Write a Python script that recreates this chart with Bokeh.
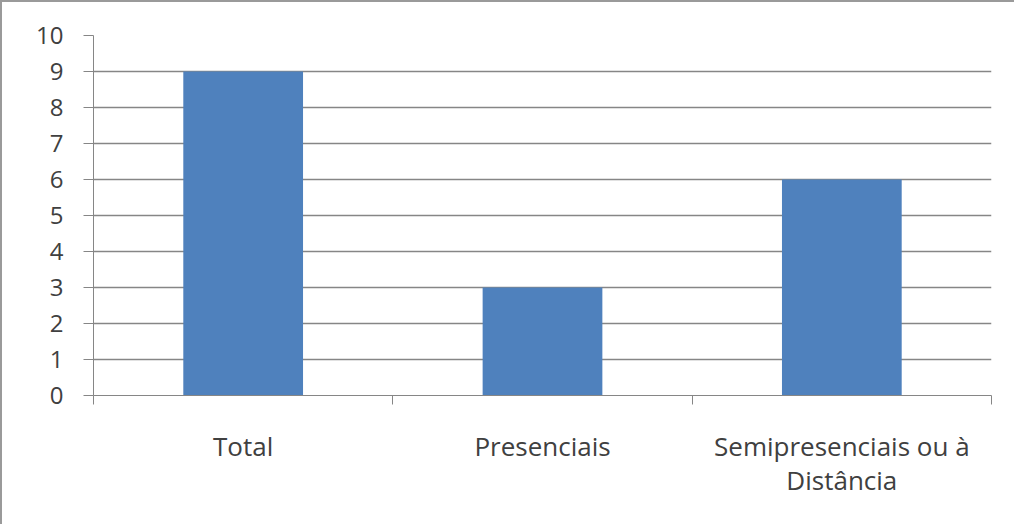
from bokeh.plotting import figure
from bokeh.models import Range1d, FixedTicker, ColumnDataSource
from bokeh.embed import file_html
from bokeh.resources import INLINE

categories = ["Total", "Presenciais", "Semipresenciais ou à\nDistância"]
values = [9, 3, 6]
y_ticks = list(range(0, 11))

xpos = [i + 0.5 for i in range(len(categories))]
src = ColumnDataSource(dict(x=xpos, top=values))

p = figure(width=1014, height=524, x_range=Range1d(0, len(categories)), y_range=Range1d(0, 10),
           output_backend="svg", toolbar_location=None,
           min_border_left=91, min_border_right=25, min_border_top=33, min_border_bottom=131)
p.styles = {"border-left": "2px solid #9a9a9a", "border-top": "2px solid #9a9a9a", "box-sizing": "border-box"}
p.outline_line_color = None
p.background_fill_color = "white"
p.border_fill_color = "white"

p.vbar(x="x", top="top", bottom=0, width=0.4, source=src, fill_color="#4F81BD", line_color=None)

font = "Open Sans"
# x axis
xa = p.xaxis[0]
xa.ticker = FixedTicker(ticks=xpos, minor_ticks=list(range(len(categories) + 1)))
xa.major_label_overrides = {x: c for x, c in zip(xpos, categories)}
xa.major_tick_line_color = None
xa.major_tick_out = 0
xa.minor_tick_out = 9
xa.minor_tick_in = 0
xa.minor_tick_line_color = "#868686"
xa.axis_line_color = "#868686"
xa.major_label_text_font = font
xa.major_label_text_font_size = "26px"
xa.major_label_text_color = "#404040"
xa.major_label_standoff = 23
xa.major_label_text_line_height = 0.96

ya = p.yaxis[0]
ya.ticker = FixedTicker(ticks=y_ticks)
ya.major_tick_out = 10
ya.major_tick_in = 0
ya.minor_tick_line_color = None
ya.major_tick_line_color = "#868686"
ya.axis_line_color = "#868686"
ya.major_label_text_font = font
ya.major_label_text_font_size = "24px"
ya.major_label_text_color = "#404040"
ya.major_label_standoff = 20

p.xgrid.grid_line_color = None
p.ygrid.ticker = FixedTicker(ticks=y_ticks)
p.ygrid.grid_line_color = "#868686"
p.ygrid.grid_line_width = 1.3

open("out.html", "w").write(file_html(p, INLINE))
